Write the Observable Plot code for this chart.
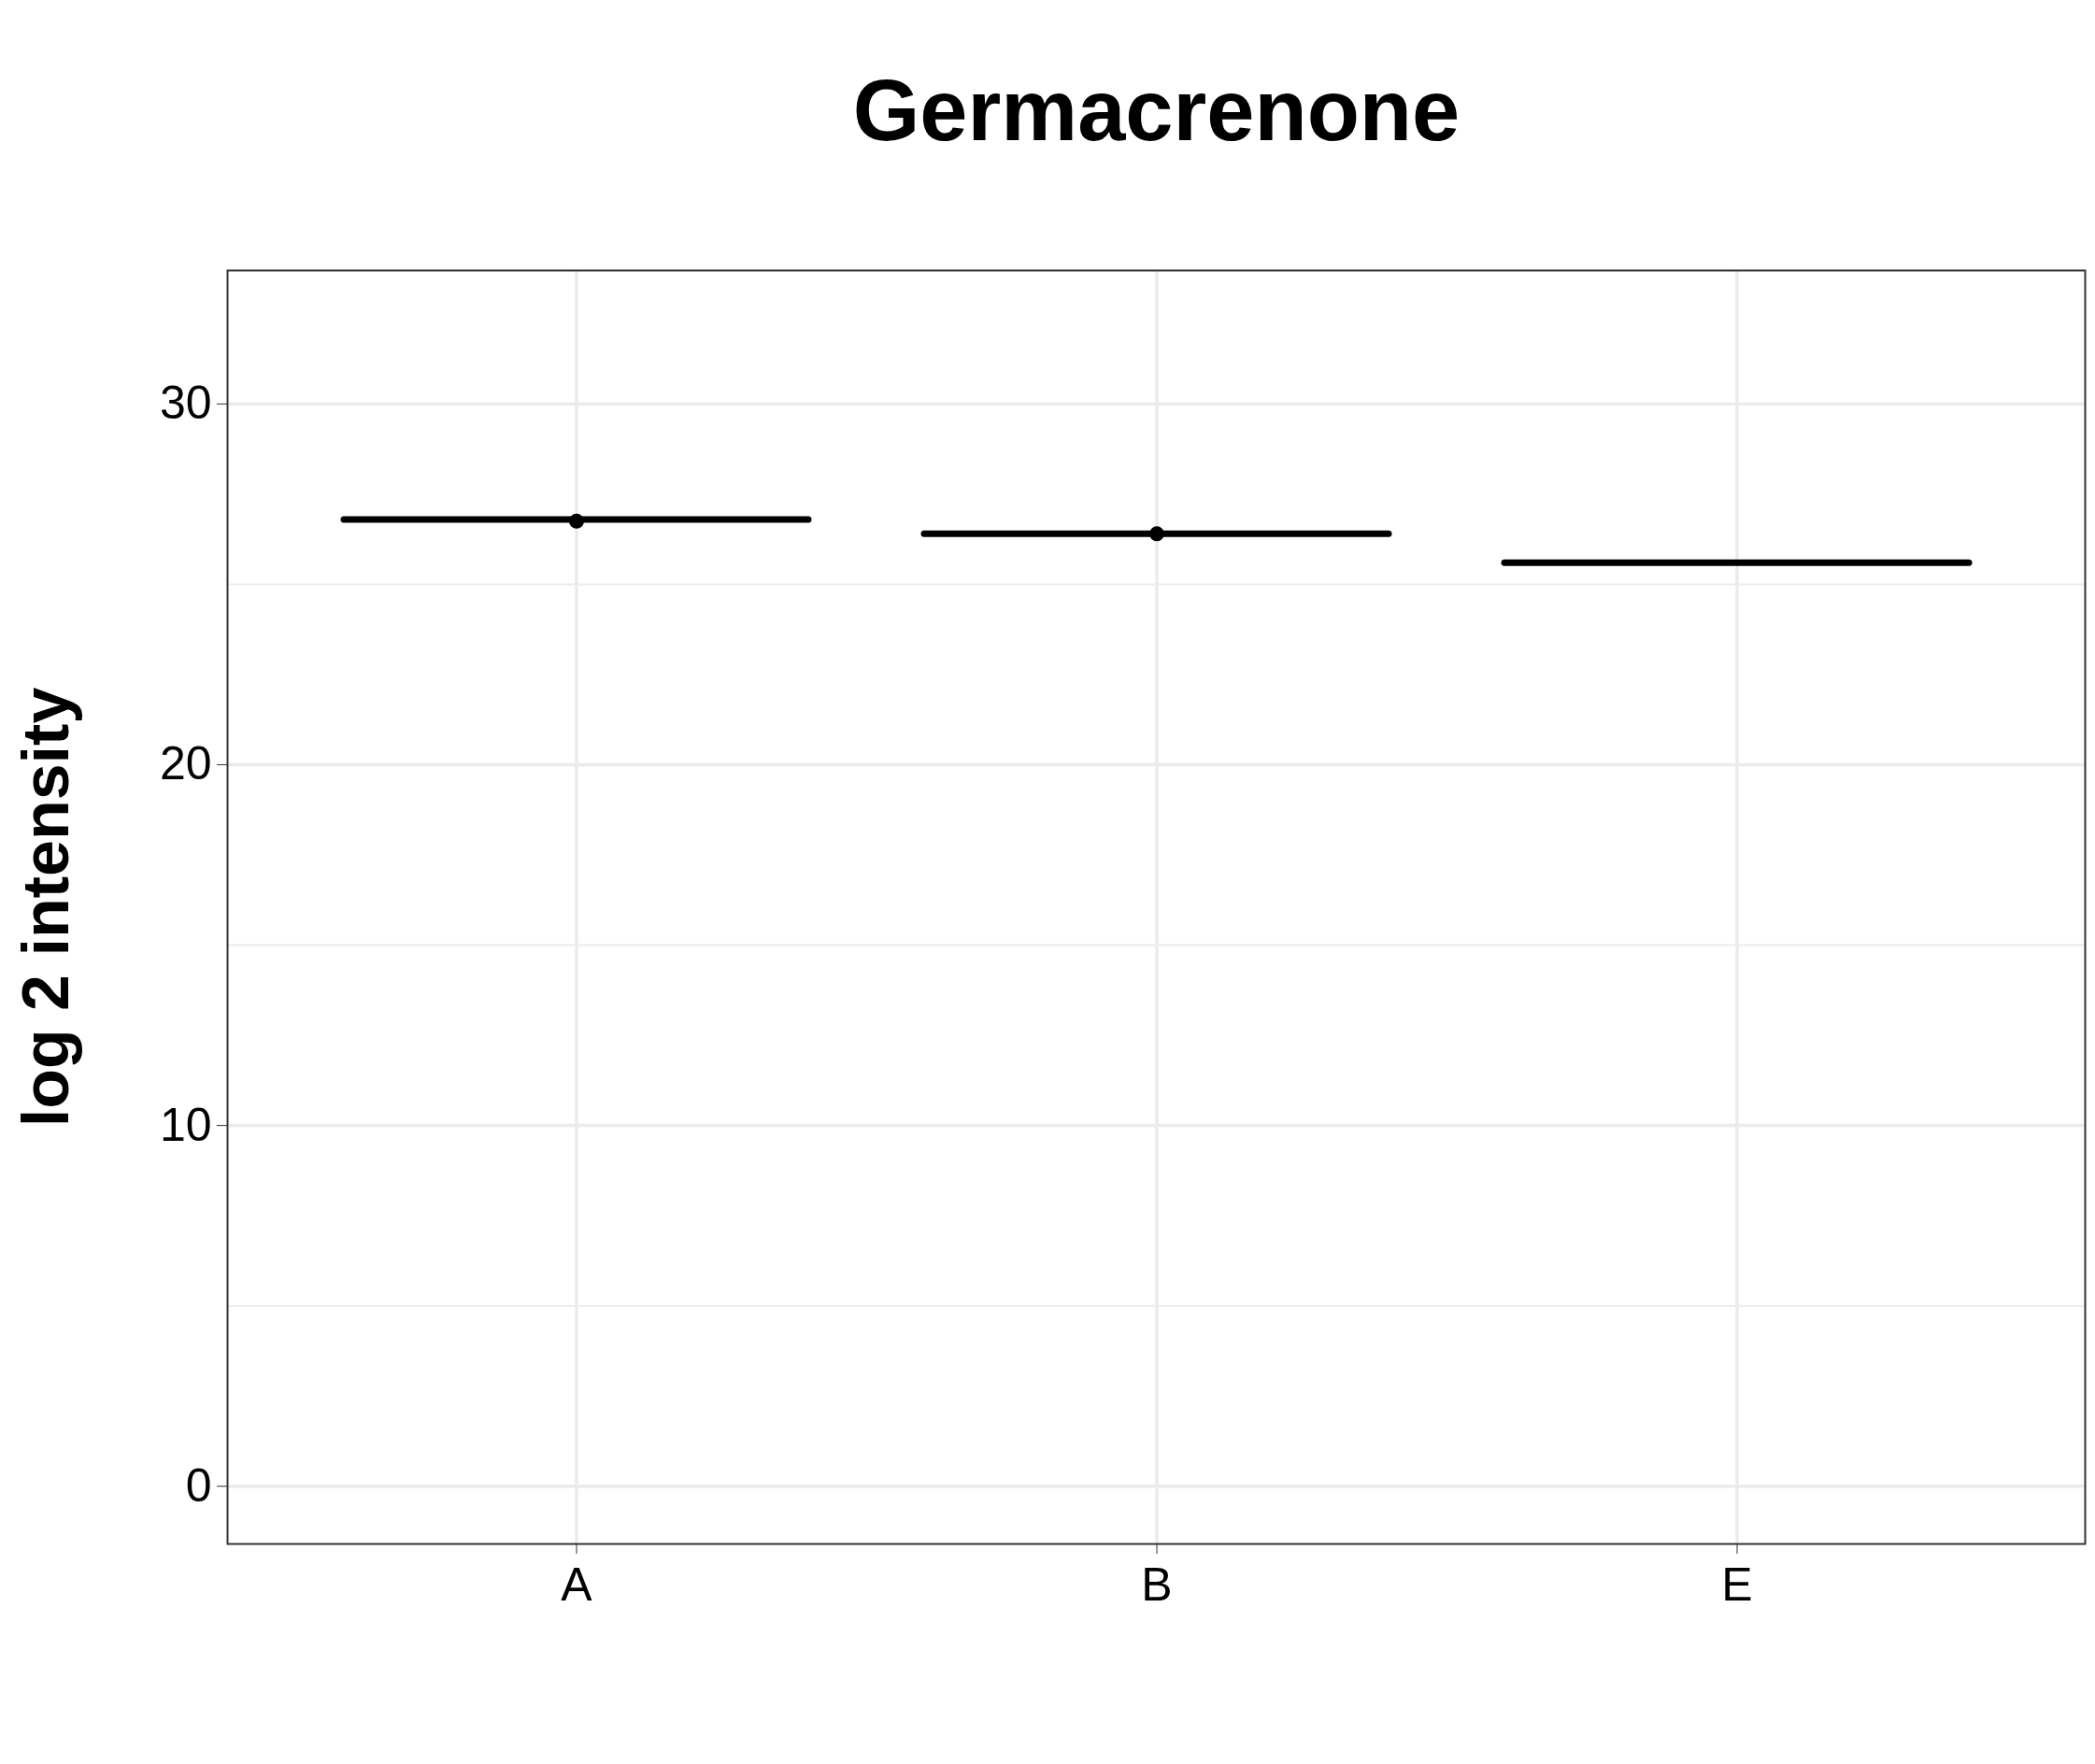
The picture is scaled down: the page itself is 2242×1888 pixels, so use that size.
<!DOCTYPE html>
<html>
<head>
<meta charset="utf-8">
<script src="https://cdn.jsdelivr.net/npm/d3@7"></script>
<script src="https://cdn.jsdelivr.net/npm/@observablehq/plot@0.6"></script>
<style>body{margin:0;background:#fff}</style>
</head>
<body>
<div id="chart"></div>
<script>
// groups and log2 medians
const groups = ["A", "B", "E"]
const medians = [26.8, 26.4, 25.6]
const points = [26.75, 26.4, null]
const yTicks = [0, 10, 20, 30]
const yMinor = [5, 15, 25]
const title = "Germacrenone"

const data = groups.map((g, i) => ({group: g, median: medians[i], point: points[i]}))

let chart = Plot.plot({
  width: 2242,
  height: 1888,
  marginLeft: 243,
  marginRight: 11,
  marginTop: 289,
  marginBottom: 236,
  style: {fontFamily: "Liberation Sans, Arial, sans-serif", fontSize: "50px", color: "#000"},
  x: {domain: groups, paddingInner: 0.2, paddingOuter: 0.2, label: null},
  y: {domain: [-1.6, 33.7], label: null},
  marks: [
    Plot.ruleY(yMinor, {stroke: "#ebebeb", strokeWidth: 2}),
    Plot.ruleY(yTicks, {stroke: "#ebebeb", strokeWidth: 3.5}),
    Plot.tickX(groups, {x: d => d, stroke: "#ebebeb", strokeWidth: 3.5}),
    Plot.tickY(data, {x: "group", y: "median", stroke: "#000", strokeWidth: 7, strokeLinecap: "round"}),
    Plot.dot(data.filter(d => d.point != null), {x: "group", y: "point", r: 8, fill: "#000", stroke: null}),
    Plot.frame({stroke: "#333", strokeWidth: 2}),
    Plot.axisY({ticks: yTicks, tickSize: 11, tickPadding: 6, fontSize: 50, stroke: "#333"}),
    Plot.axisX({tickSize: 11, tickPadding: 14, fontSize: 50, stroke: "#333"}),
    Plot.text([title], {frameAnchor: "top", dy: -205, fontSize: 92, fontWeight: "bold", text: d => d}),
    Plot.text(["log 2 intensity"], {frameAnchor: "left", dx: -193, rotate: -90, textAnchor: "middle", fontSize: 70, fontWeight: "bold", text: d => d})
  ]
})
d3.select('#chart').append(() => chart)
</script>
</body>
</html>
